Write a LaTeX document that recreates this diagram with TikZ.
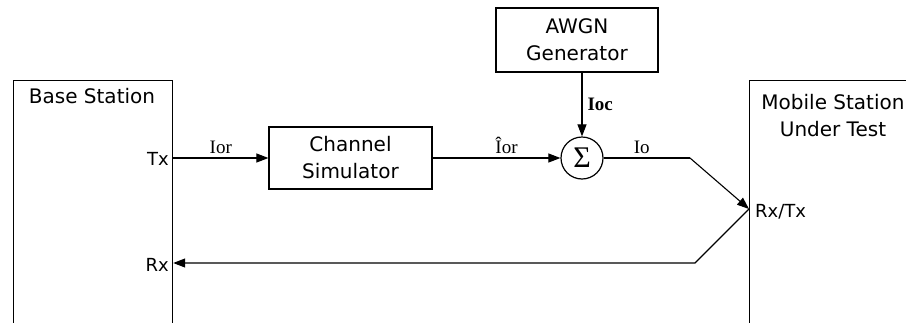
\documentclass[tikz,border=0pt]{standalone}
\usepackage{fontspec}
\setmainfont{DejaVu Sans}
\newfontfamily\sigfont{Liberation Serif}
\usepackage{tikz}
\usetikzlibrary{positioning, arrows.meta}
\tikzset{
  station/.style={
    draw, line width=1.2pt, minimum width=159pt, minimum height=270pt,
    anchor=north west, inner sep=0pt
  },
  block/.style={
    draw, line width=1.2pt, align=center, inner sep=2pt,
    font=\fontsize{20}{27}\selectfont
  },
  title/.style={align=center, font=\fontsize{20}{27}\selectfont, inner sep=0pt},
  port/.style={font=\fontsize{18}{20}\selectfont, inner sep=0pt},
  sig/.style={font=\sigfont\fontsize{19}{20}\selectfont, inner sep=0pt},
  summer/.style={draw, circle, line width=1.2pt, minimum size=42pt, inner sep=0pt,
    font=\sigfont\fontsize{30}{32}\selectfont},
  arrow/.style={-{Triangle[length=12pt,width=9pt]}, line width=1.1pt},
  wire/.style={line width=1.1pt}
}

\begin{document}
\begin{tikzpicture}[x=1pt, y=-1pt]
  \useasboundingbox (0,0) rectangle (906,322);
  \clip (0,0) rectangle (906,322);
  \node[station] (bs) at (13,80) {};
  \node[station, minimum width=200pt] (ms) at (749,80) {};
  \node[title, anchor=north] (bstitle) at (92,88) {Base Station};
  \node[title] (mstitle) at (833,116) {Mobile Station\\Under Test};
  \node[port, anchor=east] (txlbl) at (169,159) {Tx};
  \node[port, anchor=east] (rxlbl) at (169,265) {Rx};
  \node[port, anchor=west] (rxtxlbl) at (755,212) {Rx/Tx};

  \node[block, minimum width=163pt, minimum height=62pt] (chan) at (350.5,158) {Channel\\Simulator};
  \node[block, minimum width=162pt, minimum height=64pt] (awgn) at (577,40) {AWGN\\Generator};
  \node[summer] (sum) at (582,158) {Σ};

  \coordinate (bendA) at (690,158);
  \coordinate (rxtx) at (749,209);
  \coordinate (bendB) at (695,263);

  \draw[arrow] (bs.east |- chan.west) -- node[sig, above=4pt] (ior) {Ior} (chan.west);
  \draw[arrow] (chan.east) -- node[sig, above=4pt, xshift=10pt] (iorhat) {\^{I}or} (sum.west);
  \draw[arrow] (awgn.south -| sum.north) -- node[sig, right=5pt, font=\sigfont\bfseries\fontsize{19}{20}\selectfont] (ioc) {Ioc} (sum.north);
  \draw[wire] (sum.east) -- node[sig, above=4pt, xshift=-5pt] (io) {Io} (bendA);
  \draw[arrow] (bendA) -- (rxtx);
  \draw[arrow] (rxtx) -- (bendB) -- (bs.east |- bendB);
\end{tikzpicture}
\end{document}
